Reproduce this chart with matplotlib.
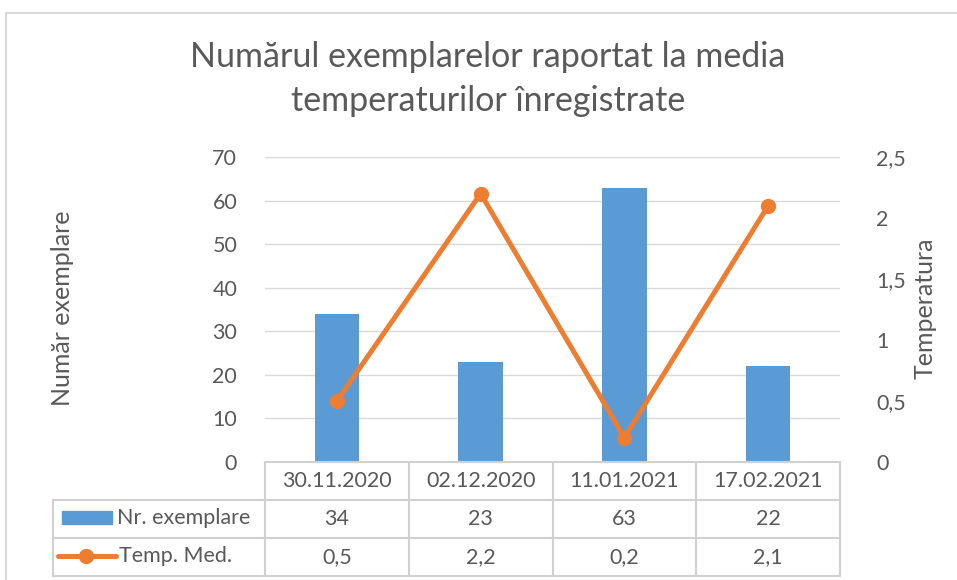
import matplotlib.pyplot as plt
from matplotlib.lines import Line2D
from matplotlib.patches import Rectangle

dates = ["30.11.2020", "02.12.2020", "11.01.2021", "17.02.2021"]
nr_exemplare = [34, 23, 63, 22]
temp_med = [0.5, 2.2, 0.2, 2.1]

W, H = 957, 580
BLUE = "#5B9BD5"
ORANGE = "#ED7D31"
TXT = "#595959"
GRID = "#D9D9D9"
FS = 15.5

plt.rcParams["font.family"] = ["Lato", "DejaVu Sans"]


def fx(x):
    return x / W


def fy(y):
    return 1 - y / H


def comma(v):
    return f"{v:g}".replace(".", ",")


fig = plt.figure(figsize=(W / 100, H / 100), dpi=100)

# chart area border (top and left edges)
fig.add_artist(Line2D([fx(6), fx(957)], [fy(13), fy(13)], color=GRID, lw=1.5))
fig.add_artist(Line2D([fx(6), fx(6)], [fy(13), fy(580)], color=GRID, lw=1.5))

left, right, top, bottom = 265, 840, 157, 462
ax = fig.add_axes([fx(left), fy(bottom), fx(right - left), (bottom - top) / H])
ax2 = ax.twinx()

x = range(len(dates))
ax.bar(x, nr_exemplare, width=0.31, color=BLUE, zorder=2)
ax.set_xlim(-0.5, len(dates) - 0.5)
ax.set_ylim(0, 70)
ax.set_yticks(range(0, 71, 10))
ax.grid(axis="y", color=GRID, lw=1, zorder=0)
ax.set_xticks([])

ax2.plot(x, temp_med, color=ORANGE, lw=3.6, marker="o", markersize=10, zorder=3)
ax2.set_ylim(0, 2.5)
ax2.set_yticks([0, 0.5, 1, 1.5, 2, 2.5])
ax2.set_yticklabels([comma(v) for v in [0, 0.5, 1, 1.5, 2, 2.5]])

for a in (ax, ax2):
    for s in a.spines.values():
        s.set_visible(False)
    a.tick_params(length=0, labelsize=FS, colors=TXT)
ax.tick_params(axis="y", pad=20)
ax2.tick_params(axis="y", pad=26)

fig.text(fx(62), fy(308), "Număr exemplare", rotation=90, ha="center", va="center",
         fontsize=18, color=TXT)
fig.text(fx(925), fy(308), "Temperatura", rotation=90, ha="center", va="center",
         fontsize=18, color=TXT)

fig.text(fx(488), fy(57), "Numărul exemplarelor raportat la media", ha="center",
         va="center", fontsize=24.5, color=TXT)
fig.text(fx(488), fy(101), "temperaturilor înregistrate", ha="center",
         va="center", fontsize=24.5, color=TXT)

# data table under the plot
col_w = (right - left) / len(dates)
cols = [left + i * col_w for i in range(len(dates) + 1)]
rows = [462, 500, 538, 576]
lc = "#D0D0D0"
fig.add_artist(Line2D([fx(left), fx(right)], [fy(rows[0])] * 2, color=lc, lw=1.5))
for r in rows[1:]:
    fig.add_artist(Line2D([fx(53), fx(right)], [fy(r)] * 2, color=lc, lw=1.5))
fig.add_artist(Line2D([fx(53)] * 2, [fy(rows[1]), fy(rows[3])], color=lc, lw=1.5))
for c in cols:
    fig.add_artist(Line2D([fx(c)] * 2, [fy(rows[0]), fy(rows[3])], color=lc, lw=1.5))

for i in range(len(dates)):
    cx = fx(cols[i] + col_w / 2)
    fig.text(cx, fy(481), dates[i], ha="center", va="center", fontsize=FS, color=TXT)
    fig.text(cx, fy(519), str(nr_exemplare[i]), ha="center", va="center",
             fontsize=FS, color=TXT)
    fig.text(cx, fy(557), comma(temp_med[i]), ha="center", va="center",
             fontsize=FS, color=TXT)

fig.add_artist(Rectangle((fx(62), fy(524)), fx(50), 13 / H, color=BLUE))
fig.text(fx(117), fy(518), "Nr. exemplare", ha="left", va="center", fontsize=FS, color=TXT)
fig.add_artist(Line2D([fx(58), fx(116)], [fy(556)] * 2, color=ORANGE, lw=3.6,
                      solid_capstyle="round"))
fig.add_artist(Line2D([fx(86)], [fy(556)], color=ORANGE, marker="o", markersize=10))
fig.text(fx(119), fy(556), "Temp. Med.", ha="left", va="center", fontsize=FS, color=TXT)

fig.savefig("out.png", dpi=100)
